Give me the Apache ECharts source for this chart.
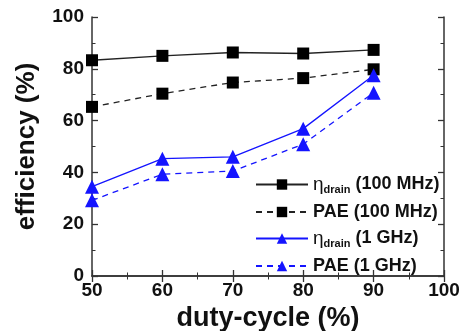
<!DOCTYPE html>
<html><head><meta charset="utf-8">
<script src="https://cdn.jsdelivr.net/npm/echarts@6/dist/echarts.min.js"></script>
<style>html,body{margin:0;padding:0;background:#fff}#c{width:462px;height:331px}</style>
</head><body><div id="c"></div>
<script>
var dutyCycle = [50, 60, 70, 80, 90];
var drain100MHz = [83.3, 85.0, 86.3, 85.9, 87.3];
var pae100MHz = [65.3, 70.4, 74.7, 76.4, 79.8];
var drain1GHz = [34.5, 45.3, 46.0, 56.9, 77.5];
var pae1GHz = [29.2, 39.3, 40.5, 50.9, 70.8];
var seriesNames = ['drain100', 'pae100', 'drain1', 'pae1'];
var legendLabels = {
  drain100: '{n|η}{s|drain} (100 MHz)',
  pae100: 'PAE (100 MHz)',
  drain1: '{n|η}{s|drain} (1 GHz)',
  pae1: 'PAE (1 GHz)'
};
function pairs(ys){ return dutyCycle.map(function(x,i){return [x, ys[i]];}); }
var FONT = 'Liberation Sans, Arial, sans-serif';
var BLUE = '#1414ff';
var axisCommon = {
  axisLine: {show: true, lineStyle: {color: '#333', width: 1.5}},
  axisTick: {show: true, inside: true, length: 6, lineStyle: {color: '#333', width: 1.3}},
  minorTick: {show: true, splitNumber: 2, length: 3.5, lineStyle: {color: '#333', width: 1}},
  splitLine: {show: false}
};
var chart = echarts.init(document.getElementById('c'));
chart.setOption({
  animation: false,
  grid: {left: 92, right: 18, top: 17, bottom: 55, containLabel: false, outerBoundsMode: 'none'},
  xAxis: [
    Object.assign({}, axisCommon, {
      type: 'value', min: 50, max: 100, interval: 10, position: 'bottom',
      name: 'duty-cycle (%)', nameLocation: 'middle', nameGap: 27,
      nameTextStyle: {fontFamily: FONT, fontWeight: 'bold', fontSize: 27, color: '#111'},
      axisLabel: {fontFamily: FONT, fontWeight: 'bold', fontSize: 19, color: '#111', margin: 5}
    }),
    Object.assign({}, axisCommon, {
      type: 'value', min: 50, max: 100, interval: 10, position: 'top',
      axisLabel: {show: false}
    })
  ],
  yAxis: [
    Object.assign({}, axisCommon, {
      type: 'value', min: 0, max: 100, interval: 20, position: 'left',
      name: 'efficiency (%)', nameLocation: 'middle', nameGap: 52,
      nameTextStyle: {fontFamily: FONT, fontWeight: 'bold', fontSize: 26, color: '#111'},
      axisLabel: {fontFamily: FONT, fontWeight: 'bold', fontSize: 19, color: '#111', margin: 8}
    }),
    Object.assign({}, axisCommon, {
      type: 'value', min: 0, max: 100, interval: 20, position: 'right',
      axisLabel: {show: false}
    })
  ],
  legend: {
    orient: 'vertical', left: 250, top: 170,
    itemWidth: 52, itemHeight: 13, itemGap: 8,
    data: seriesNames,
    formatter: function(n){ return legendLabels[n]; },
    textStyle: {
      fontFamily: FONT, fontWeight: 'bold', fontSize: 18, color: '#111',
      rich: {
        n: {fontFamily: FONT, fontWeight: 'normal', fontSize: 19, color: '#111'},
        s: {fontFamily: FONT, fontWeight: 'bold', fontSize: 11, color: '#111', padding: [10, 0, 0, 0]}
      }
    }
  },
  series: [
    {name: 'drain100', type: 'line', data: pairs(drain100MHz), symbol: 'rect', symbolSize: 12,
     itemStyle: {color: '#000'}, lineStyle: {color: '#222', width: 1.3, type: 'solid'}},
    {name: 'pae100', type: 'line', data: pairs(pae100MHz), symbol: 'rect', symbolSize: 12,
     itemStyle: {color: '#000'}, lineStyle: {color: '#222', width: 1.3, type: [6, 5]}},
    {name: 'drain1', type: 'line', data: pairs(drain1GHz), symbol: 'triangle', symbolSize: 14,
     itemStyle: {color: BLUE}, lineStyle: {color: BLUE, width: 1.3, type: 'solid'}},
    {name: 'pae1', type: 'line', data: pairs(pae1GHz), symbol: 'triangle', symbolSize: 14,
     itemStyle: {color: BLUE}, lineStyle: {color: BLUE, width: 1.3, type: [6, 5]}}
  ]
});
</script></body></html>
